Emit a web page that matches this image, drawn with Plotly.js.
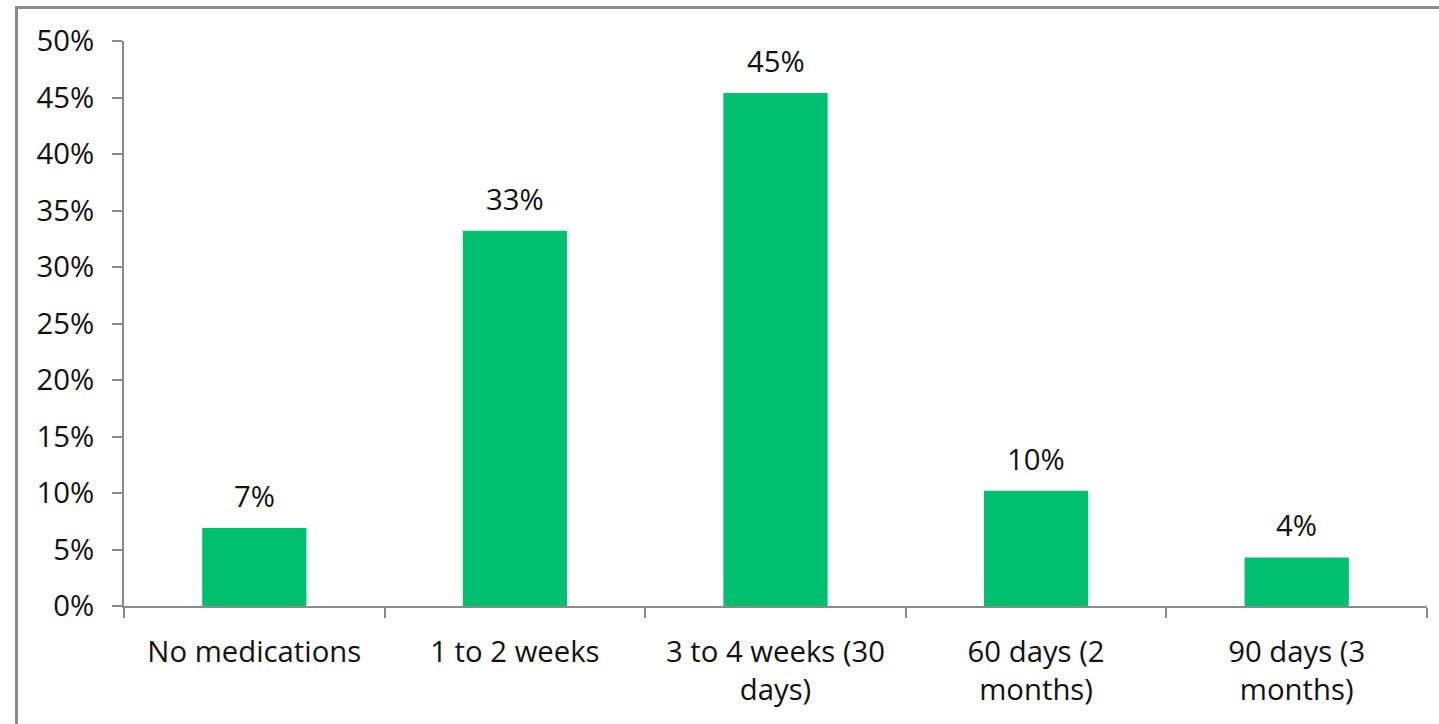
<!DOCTYPE html>
<html>
<head>
<meta charset="utf-8">
<script src="https://cdn.plot.ly/plotly-3.0.1.min.js"></script>
<style>
  html, body { margin: 0; padding: 0; background: #ffffff; }
  #wrap { position: relative; width: 1439px; height: 724px; overflow: hidden; }
  #chart { position: absolute; left: 0; top: 0; width: 1439px; height: 724px; }
  #frame {
    position: absolute; left: 15px; top: 6px; width: 1500px; height: 800px;
    border-left: 3px solid #8a8a8a; border-top: 3px solid #8a8a8a;
    pointer-events: none; box-sizing: border-box;
  }
</style>
</head>
<body>
<div id="wrap">
  <div id="chart"></div>
  <div id="frame"></div>
</div>
<script>
// Prescription supply length categories and share of respondents
const categories = [
  'No medications',
  '1 to 2 weeks',
  '3 to 4 weeks (30<br>days)',
  '60 days (2<br>months)',
  '90 days (3<br>months)'
];
const shares = [0.069, 0.332, 0.454, 0.102, 0.043];

const FONT = '"Open Sans", "Noto Sans", sans-serif';
const SIZE = 29.3;
const TEXT = '#111111';
const AXIS = '#8a8a8a';
const GREEN = '#00bf6f';

const bars = {
  type: 'bar',
  x: categories,
  y: shares,
  marker: { color: GREEN },
  hoverinfo: 'skip'
};

// value labels above each bar, derived from the bar values
const labels = categories.map((c, i) => ({
  x: c,
  y: shares[i],
  xref: 'x',
  yref: 'y',
  text: Math.round(shares[i] * 100) + '%',
  showarrow: false,
  yanchor: 'middle',
  yshift: 32,
  font: { family: FONT, size: SIZE, color: TEXT }
}));

const layout = {
  width: 1439,
  height: 724,
  margin: { l: 124, r: 12, t: 41, b: 118 },
  paper_bgcolor: '#ffffff',
  plot_bgcolor: '#ffffff',
  showlegend: false,
  bargap: 0.6,
  font: { family: FONT, size: SIZE, color: TEXT },
  xaxis: {
    type: 'category',
    range: [-0.5, 4.5],
    tickson: 'boundaries',
    ticks: 'outside',
    ticklen: 10,
    tickwidth: 2,
    tickcolor: AXIS,
    showline: true,
    linecolor: AXIS,
    linewidth: 2,
    showgrid: false,
    zeroline: false,
    ticklabelstandoff: 19,
    tickfont: { family: FONT, size: SIZE, color: TEXT }
  },
  yaxis: {
    range: [0, 0.5],
    dtick: 0.05,
    tick0: 0,
    tickformat: '.0%',
    ticks: 'outside',
    ticklen: 10,
    tickwidth: 2,
    tickcolor: AXIS,
    showline: true,
    linecolor: AXIS,
    linewidth: 2,
    showgrid: false,
    zeroline: false,
    ticklabelstandoff: 12,
    tickfont: { family: FONT, size: SIZE, color: TEXT }
  },
  annotations: labels
};

Plotly.newPlot('chart', [bars], layout, { displayModeBar: false, staticPlot: true });
</script>
</body>
</html>
